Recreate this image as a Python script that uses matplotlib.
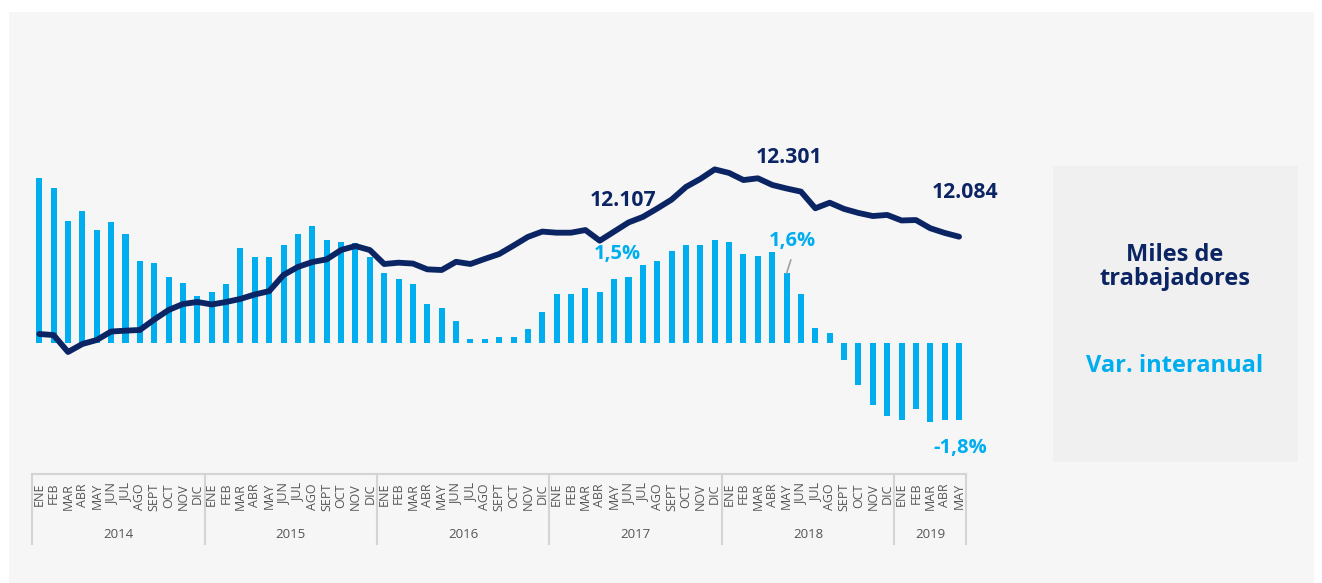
import numpy as np
import matplotlib.pyplot as plt
import matplotlib.transforms as mtransforms
from matplotlib.patches import Rectangle

# Datos
meses = ["ENE", "FEB", "MAR", "ABR", "MAY", "JUN", "JUL", "AGO", "SEPT", "OCT", "NOV", "DIC"]
anios = ["2014", "2015", "2016", "2017", "2018", "2019"]
meses_por_anio = [12, 12, 12, 12, 12, 5]

# Variación interanual (%)
var_interanual = [
    3.79, 3.56, 2.81, 3.03, 2.59, 2.77, 2.50, 1.88, 1.83, 1.51, 1.38, 1.08,
    1.16, 1.35, 2.19, 1.97, 1.97, 2.24, 2.50, 2.68, 2.37, 2.33, 2.29, 1.97,
    1.61, 1.47, 1.35, 0.89, 0.81, 0.49, 0.08, 0.08, 0.13, 0.13, 0.31, 0.71,
    1.12, 1.12, 1.25, 1.16, 1.47, 1.52, 1.79, 1.88, 2.11, 2.24, 2.24, 2.37,
    2.32, 2.05, 2.00, 2.09, 1.60, 1.12, 0.35, 0.23, -0.40, -0.98, -1.44, -1.69,
    -1.78, -1.52, -1.83, -1.78, -1.78,
]

# Miles de trabajadores
trabajadores = [
    11646, 11641, 11565, 11601, 11619, 11657, 11661, 11664, 11711, 11754, 11781, 11790,
    11779, 11790, 11804, 11824, 11839, 11912, 11948, 11970, 11982, 12024, 12042, 12024,
    11961, 11967, 11963, 11937, 11934, 11971, 11961, 11984, 12006, 12044, 12083, 12107,
    12102, 12102, 12114, 12066, 12107, 12148, 12173, 12211, 12251, 12308, 12344, 12387,
    12371, 12339, 12347, 12317, 12301, 12287, 12212, 12237, 12209, 12191, 12177, 12182,
    12157, 12159, 12122, 12101, 12084,
]

# Etiquetas destacadas: (indice, texto)
etiquetas_linea = [(40, "12.107"), (52, "12.301"), (64, "12.084")]
etiquetas_barra = [(40, "1,5%"), (52, "1,6%"), (64, "-1,8%")]

navy = "#0b2463"
cyan = "#00aeef"
gris_txt = "#555555"
gris_lin = "#d4d4d4"

plt.rcParams["font.family"] = ["Open Sans", "DejaVu Sans"]

W, H = 1322, 583
fig = plt.figure(figsize=(W / 100, H / 100), dpi=100)
fig.patch.set_facecolor("white")
fig.patches.append(Rectangle((9 / W, 0), (1314 - 9) / W, (H - 12) / H,
                             transform=fig.transFigure, facecolor="#f6f6f6",
                             edgecolor="none", zorder=-10))

# Ejes en pixeles (x de -1 a 65, y entre 100 y 460 px desde arriba)
x0, x1 = 24.9, 973.4
ytop, ybot = 100, 460
ax = fig.add_axes([x0 / W, 1 - ybot / H, (x1 - x0) / W, (ybot - ytop) / H])
ax.set_xlim(-1, 65)
ax.set_ylim((342.7 - ybot) / 43.4, (342.7 - ytop) / 43.4)
ax.axis("off")

x = np.arange(len(var_interanual))
ax.bar(x, var_interanual, width=0.42, color=cyan, zorder=2)

ax2 = ax.twinx()
ax2.set_ylim(13149.6 - 4.502 * ybot, 13149.6 - 4.502 * ytop)
ax2.axis("off")
ax2.plot(x, trabajadores, color=navy, lw=4.2, solid_capstyle="round",
         solid_joinstyle="round", zorder=3)

# Etiquetas de la línea
offs_linea = {40: (9, 31), 52: (2, 31), 64: (6, 44)}
for i, txt in etiquetas_linea:
    dx, dy = offs_linea[i]
    ax2.annotate(txt, (i, trabajadores[i]), xytext=(dx, dy), textcoords="offset pixels",
                 ha="center", va="center", fontsize=15.2, fontweight="bold", color=navy)

# Etiquetas de las barras
offs_barra = {40: (3, 25), 52: (6, 32), 64: (1, -28)}
for i, txt in etiquetas_barra:
    dx, dy = offs_barra[i]
    ax.annotate(txt, (i, var_interanual[i]), xytext=(dx, dy), textcoords="offset pixels",
                ha="center", va="center", fontsize=14.5, fontweight="bold", color=cyan)
ax.annotate("", (52, var_interanual[52]), xytext=(52.3, var_interanual[52] + 0.31),
            arrowprops=dict(arrowstyle="-", color="#a0a0a0", lw=1.2,
                            shrinkA=0, shrinkB=0))

# Eje de categorías en dos niveles
ax_y = lambda px: (H - px) / H
blend = mtransforms.blended_transform_factory(ax.transData, fig.transFigure)

ax.plot([-0.5, len(x) - 0.5], [ax_y(474)] * 2, transform=blend, color=gris_lin,
        lw=1.5, clip_on=False)
k = 0
limites = [-0.5]
for anio, n in zip(anios, meses_por_anio):
    for j in range(n):
        ax.text(k + j, ax_y(483), meses[j], transform=blend, rotation=90,
                ha="center", va="top", fontsize=9, color=gris_txt)
    ax.text(k + (n - 1) / 2, ax_y(534), anio, transform=blend, ha="center",
            va="center", fontsize=9.5, color=gris_txt)
    k += n
    limites.append(k - 0.5)
for b in limites:
    ax.plot([b, b], [ax_y(474), ax_y(544)], transform=blend, color=gris_lin,
            lw=1.5, clip_on=False)

# Leyenda lateral
fig.patches.append(Rectangle((1053 / W, 1 - 462 / H), (1298 - 1053) / W, (462 - 166) / H,
                             transform=fig.transFigure, facecolor="#f0f0f0",
                             edgecolor="none", zorder=-5))
fig.text(1175 / W, 1 - 267 / H, "Miles de\ntrabajadores", ha="center", va="center",
         fontsize=17, fontweight="bold", color=navy, linespacing=1.05)
fig.text(1175 / W, 1 - 366 / H, "Var. interanual", ha="center", va="center",
         fontsize=17, fontweight="bold", color=cyan)

fig.savefig("out.png", dpi=100)
